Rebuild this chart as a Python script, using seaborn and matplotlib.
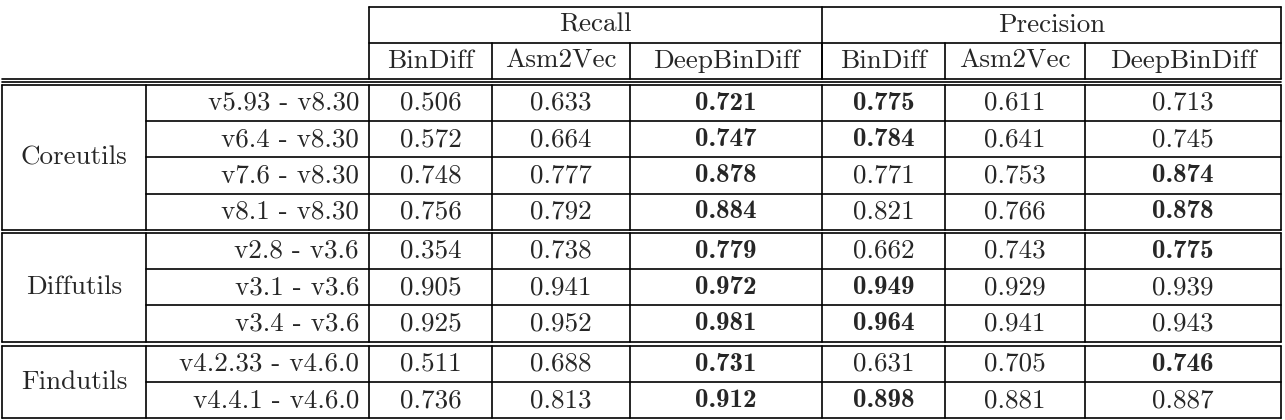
import matplotlib
matplotlib.use("Agg")
import matplotlib.pyplot as plt
import seaborn as sns
import numpy as np

sns.set_theme(style="white")
plt.rcParams['font.family'] = ['cmr10', 'DejaVu Serif']
plt.rcParams['axes.formatter.use_mathtext'] = True

groups = ["Coreutils", "Diffutils", "Findutils"]
group_sizes = [4, 3, 2]
versions = ["v5.93 - v8.30", "v6.4 - v8.30", "v7.6 - v8.30", "v8.1 - v8.30",
            "v2.8 - v3.6", "v3.1 - v3.6", "v3.4 - v3.6",
            "v4.2.33 - v4.6.0", "v4.4.1 - v4.6.0"]
metrics = ["Recall", "Precision"]
tools = ["BinDiff", "Asm2Vec", "DeepBinDiff"]
recall_bindiff = [0.506, 0.572, 0.748, 0.756, 0.354, 0.905, 0.925, 0.511, 0.736]
recall_asm2vec = [0.633, 0.664, 0.777, 0.792, 0.738, 0.941, 0.952, 0.688, 0.813]
recall_deep = [0.721, 0.747, 0.878, 0.884, 0.779, 0.972, 0.981, 0.731, 0.912]
prec_bindiff = [0.775, 0.784, 0.771, 0.821, 0.662, 0.949, 0.964, 0.631, 0.898]
prec_asm2vec = [0.611, 0.641, 0.753, 0.766, 0.743, 0.929, 0.941, 0.705, 0.881]
prec_deep = [0.713, 0.745, 0.874, 0.878, 0.775, 0.939, 0.943, 0.746, 0.887]

cols = [recall_bindiff, recall_asm2vec, recall_deep, prec_bindiff, prec_asm2vec, prec_deep]

fig = plt.figure(figsize=(12.85, 4.2), dpi=100)
ax = fig.add_axes([0, 0, 1, 1])
ax.set_xlim(0, 1285)
ax.set_ylim(420, 0)
ax.axis("off")

FS = 19.5
lw = 1.2
k = dict(color="black", lw=lw)
xs = [369, 492, 630, 822, 945, 1085, 1281]
xl, xg = 2, 146

# header
ax.plot([369, 1281], [7, 7], **k)
ax.plot([369, 1281], [43, 43], **k)
for x in [369, 822, 1281]:
    ax.plot([x, x], [7, 79], **k)
for x in xs[1:-1]:
    ax.plot([x, x], [43, 79], **k)
for i, m in enumerate(metrics):
    ax.text((xs[3 * i] + xs[3 * i + 3]) / 2, 25, m, ha="center", va="center", fontsize=FS)
for j in range(6):
    ax.text((xs[j] + xs[j + 1]) / 2, 61, tools[j % 3], ha="center", va="center", fontsize=FS)
ax.plot([xl, 1281], [79, 79], **k)
ax.plot([xl, 1281], [81.5, 81.5], **k)

tops = [85, 233, 346]
rh = 36.2
r = 0
for g, n, top in zip(groups, group_sizes, tops):
    bot = top + n * rh
    ax.plot([xl, 1281], [top, top], **k)
    ax.plot([xl, 1281], [bot, bot], **k)
    for x in [xl, xg] + xs:
        ax.plot([x, x], [top, bot], **k)
    for i in range(1, n):
        ax.plot([xg, 1281], [top + i * rh] * 2, **k)
    ax.text((xl + xg) / 2, (top + bot) / 2, g, ha="center", va="center", fontsize=FS)
    for i in range(n):
        y = top + (i + 0.5) * rh
        ax.text(xs[0] - 10, y, versions[r], ha="right", va="center", fontsize=FS)
        for c in range(6):
            block = cols[3 * (c // 3): 3 * (c // 3) + 3]
            best = max(b[r] for b in block)
            v = cols[c][r]
            bold = v == best
            ax.text((xs[c] + xs[c + 1]) / 2, y, f"{v:.3f}", ha="center", va="center",
                    fontsize=FS, family=['cmb10'] if bold else ['cmr10'])
        r += 1

fig.savefig("out.png", dpi=100, facecolor="white")
